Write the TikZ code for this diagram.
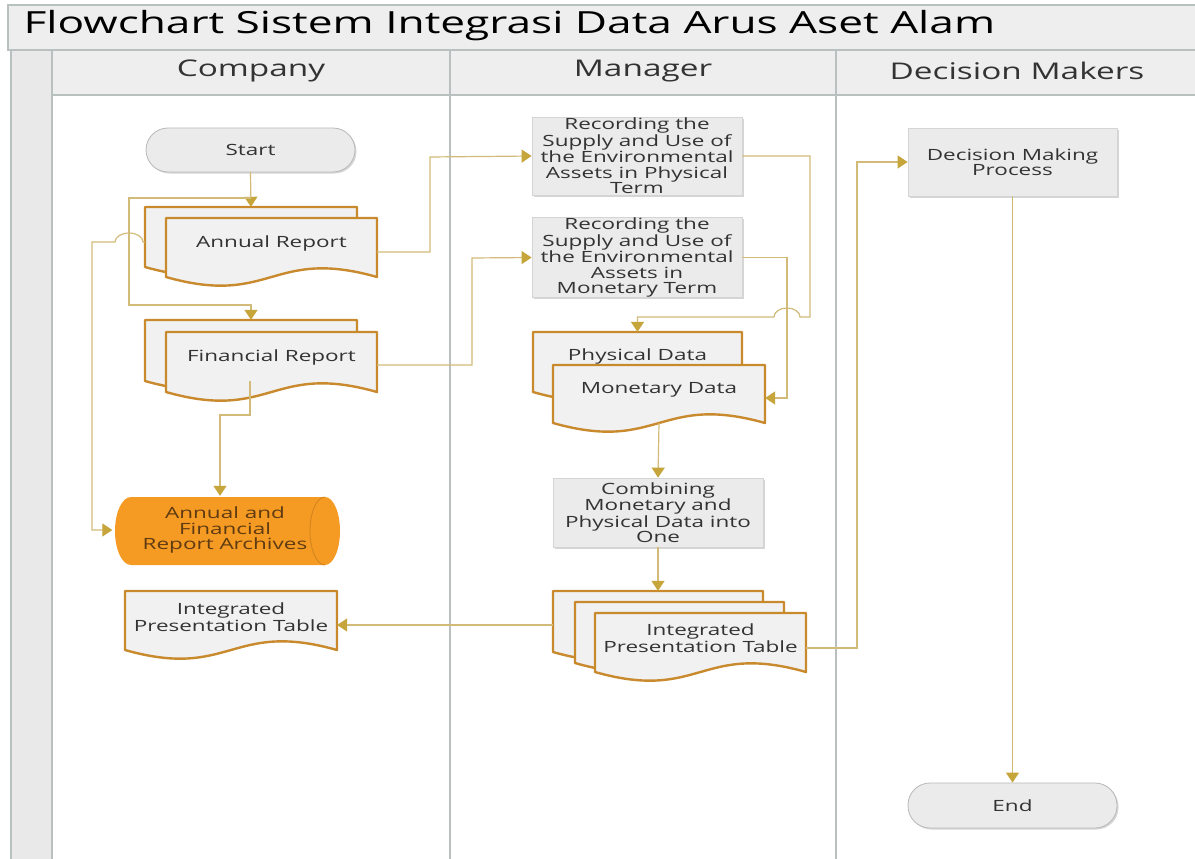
\documentclass[tikz,border=0pt]{standalone}
\usepackage{fontspec}
\setmainfont{Open Sans}[FakeStretch=1.45]
\usetikzlibrary{arrows.meta,shadows,calc}

\definecolor{lane}{HTML}{B8C0C0}
\definecolor{band}{HTML}{EEEEEE}
\definecolor{strip}{HTML}{E9E9E9}
\definecolor{flowc}{HTML}{D2BB78}
\definecolor{tipc}{HTML}{C6A53A}
\definecolor{docedge}{HTML}{C98A2E}
\definecolor{docfill}{HTML}{F1F1F1}
\definecolor{boxfill}{HTML}{EBEBEB}
\definecolor{boxedge}{HTML}{D4D4D4}
\definecolor{archfill}{HTML}{F59A23}
\definecolor{archtext}{HTML}{5E3B12}
\definecolor{ink}{HTML}{333333}

% document symbol: name, x1, y1, x2, bottom y, text lift, text
\newcommand\docsym[7]{%
  \draw[docline] (#2,#3) -- (#4,#3) -- (#4,#5)
    .. controls ({(#2+#4)/2},{#5-30}) and ({(#2+#4)/2},{#5+30}) .. (#2,#5) -- cycle;
  \node[name=#1, minimum width={(#4-#2)*1pt}, minimum height={(#5-#3)*1pt}, inner sep=0pt,
        label={[name=#1-t, txt, yshift=#6pt]center:#7}]
        at ({(#2+#4)/2},{(#3+#5)/2}) {};%
}

\begin{document}
\begin{tikzpicture}[x=1pt,y=-1pt,
  lanes/.style={draw=lane, line width=1.3pt},
  txt/.style={text=ink, align=center, font=\fontsize{15.5}{15.4}\selectfont},
  headtxt/.style={text=ink, font=\fontsize{23}{26}\selectfont},
  docline/.style={draw=docedge, fill=docfill, line width=2.4pt, line join=round},
  procbox/.style={draw=boxedge, fill=boxfill, line width=0.8pt, txt, inner sep=0pt,
    drop shadow={shadow xshift=1.5pt, shadow yshift=-1.5pt, fill=black!35, opacity=0.45}},
  term/.style={procbox, rounded corners=22pt, draw=black!28},
  flow/.style={draw=flowc, line width=1.2pt, -{Triangle[width=13pt,length=10pt,color=tipc]}},
]
\useasboundingbox (0,0) rectangle (1195,859);
\fill[white] (0,0) rectangle (1195,859);

% ---- swimlane frame ----
\draw[lanes, fill=band] (8,5) rectangle (1210,50);
\node[anchor=west, text=black, font=\fontsize{30.5}{34}\selectfont] (title) at (20,26)
  {Flowchart Sistem Integrasi Data Arus Aset Alam};
\draw[lanes, fill=strip] (11,50) rectangle (52,870);
\draw[lanes, fill=band] (52,50) rectangle (1210,95);
\draw[lanes] (450,50) -- (450,870);
\draw[lanes] (836,50) -- (836,870);
\node[headtxt] (hcomp) at (251,71) {Company};
\node[headtxt] (hman)  at (643,71) {Manager};
\node[headtxt] (hdec)  at (1017,71) {Decision Makers};

% ---- Company lane ----
\node[term, minimum width=209pt, minimum height=44pt] (start) at (250.5,150) {Start};

\docsym{annB}{145}{207}{357}{267}{0}{}
\docsym{annF}{166}{218}{377}{277}{4.5}{Annual Report}
\docsym{finB}{145}{320}{357}{381}{0}{}
\docsym{finF}{166}{332}{377}{392}{5}{Financial Report}

% archive (horizontal cylinder)
\fill[archfill] (131,497) -- (325,497)
  arc[start angle=90, end angle=-90, x radius=15pt, y radius=34pt]
  -- (131,565) arc[start angle=270, end angle=90, x radius=16pt, y radius=34pt] -- cycle;
\draw[draw=black!15!archfill, line width=0.8pt] (325,497)
  arc[start angle=90, end angle=270, x radius=15pt, y radius=34pt];
\node[minimum width=225pt, minimum height=68pt, inner sep=0pt, align=center,
      text=archtext, font=\fontsize{15.5}{15.4}\selectfont] (arch) at (225,530)
  {Annual and\\Financial\\Report Archives};

\docsym{itgL}{125}{591}{337}{650}{3.5}{Integrated\\Presentation Table}

% ---- Manager lane ----
\node[procbox, minimum width=210pt, minimum height=78pt] (recP) at (637,156)
  {Recording the\\Supply and Use of\\the Environmental\\Assets in Physical\\Term};
\node[procbox, minimum width=210pt, minimum height=79pt] (recM) at (637,257.5)
  {Recording the\\Supply and Use of\\the Environmental\\Assets in\\Monetary Term};

\docsym{phys}{533}{332}{742}{392}{6}{Physical Data}
\docsym{mon}{553}{365}{765}{423}{4}{Monetary Data}

\node[procbox, minimum width=210pt, minimum height=69pt] (comb) at (658,512.5)
  {Combining\\Monetary and\\Physical Data into\\One};

\docsym{itgA}{553}{591}{763}{652}{0}{}
\docsym{itgB}{575}{602}{784}{663}{0}{}
\docsym{itgC}{595}{613}{806}{672}{4.5}{Integrated\\Presentation Table}

% ---- Decision Makers lane ----
\node[procbox, minimum width=209pt, minimum height=68pt] (dec) at (1012.5,162)
  {Decision Making\\Process};
\node[term, minimum width=209pt, minimum height=45pt] (end) at (1012.5,805.5) {End};

% ---- connectors ----
\draw[flow] (start.south) -- (annB.north);
\draw[flow] (start.south) |- (129,198) -- (129,305) -| (finB.north);
\draw[flow] (annF.east |- 0,252) -| (430,157) -- (recP.west);
\draw[flow] (finF.east |- 0,365) -| (472,258) -- (recM.west);
\draw[flow] (annB.west |- 0,242) -- (143,242)
  arc[start angle=0, end angle=180, x radius=14pt, y radius=9pt]
  -- (92,242) |- (arch.west);
\draw[flow] (finB.south -| 250,0) |- (220,415) -- ([xshift=-5pt]arch.north);
\draw[flow] (recP.east) -| (810,317) -- (800,317)
  arc[start angle=0, end angle=180, x radius=13pt, y radius=9pt]
  -| (phys.north);
\draw[flow] (recM.east) -| (787,398) -- (mon.east |- 0,398);
\draw[flow] (mon.south) -- (comb.north);
\draw[flow] (comb.south) -- (itgA.north);
\draw[flow] (itgA.west |- 0,625) -- (itgL.east |- 0,625);
\draw[flow] (itgC.east |- 0,648) -| (857,162) -- (dec.west);
\draw[flow] (dec.south) -- (end.north);
\end{tikzpicture}
\end{document}
